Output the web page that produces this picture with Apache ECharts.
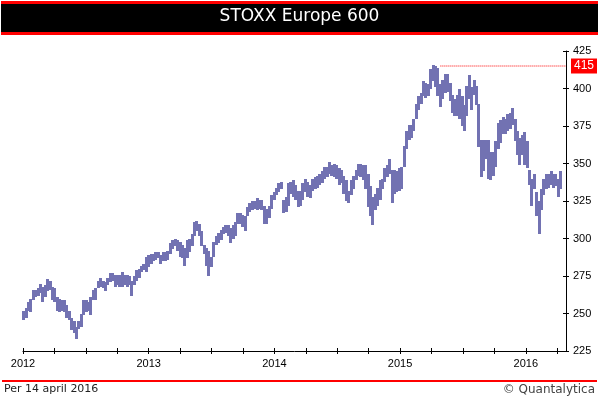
<!DOCTYPE html>
<html>
<head>
<meta charset="utf-8">
<script src="https://cdn.jsdelivr.net/npm/echarts@6/dist/echarts.min.js"></script>
<style>
  html, body { margin: 0; padding: 0; background: #fff; }
  #chart { width: 599px; height: 399px; }
</style>
</head>
<body>
<div id="chart"></div>
<script>
// weekly high/low ranges, first week starting 2012-01-03
const startDate = '2012-01-03';
const weekLows = [
  246, 247, 252, 251, 259, 261, 262, 264, 258, 261, 265, 266, 259, 258, 252, 251,
  252, 251, 247, 246, 239, 237, 233, 240, 241, 249, 251, 252, 249, 259, 259, 267,
  268, 267, 265, 269, 271, 272, 268, 269, 268, 268, 269, 268, 269, 262, 269, 272,
  274, 278, 279, 278, 281, 283, 285, 286, 287, 283, 285, 285, 286, 290, 293, 295,
  292, 288, 287, 282, 287, 291, 295, 302, 305, 302, 295, 290, 282, 275, 281, 288,
  296, 297, 299, 303, 304, 302, 297, 300, 302, 310, 310, 308, 305, 315, 318, 319,
  320, 319, 320, 319, 310, 310, 314, 320, 326, 329, 331, 333, 317, 318, 322, 330,
  328, 326, 321, 322, 326, 331, 328, 327, 332, 333, 334, 336, 337, 340, 341, 343,
  342, 341, 340, 336, 337, 330, 325, 324, 329, 333, 339, 342, 341, 339, 333, 321,
  315, 309, 319, 322, 326, 333, 338, 341, 343, 324, 330, 331, 332, 333, 348, 360,
  366, 367, 372, 380, 386, 390, 395, 394, 395, 400, 405, 401, 395, 388, 393, 397,
  398, 392, 384, 382, 382, 380, 375, 372, 382, 393, 386, 396, 389, 361, 341, 345,
  353, 340, 339, 342, 348, 360, 364, 370, 370, 372, 373, 376, 365, 356, 349, 356,
  349, 347, 336, 322, 333, 315, 303, 319, 329, 333, 334, 336, 334, 335, 328, 333
];
const weekHighs = [
  252, 254, 258, 260, 266, 266, 267, 270, 268, 269, 273, 272, 268, 267, 261, 260,
  259, 259, 256, 252, 247, 245, 241, 245, 250, 259, 259, 258, 261, 266, 267, 272,
  274, 272, 271, 274, 277, 277, 276, 276, 276, 278, 276, 276, 275, 272, 275, 279,
  280, 282, 283, 288, 289, 290, 290, 291, 291, 289, 291, 291, 292, 297, 299, 300,
  299, 298, 296, 294, 299, 300, 303, 311, 312, 310, 305, 296, 294, 292, 288, 298,
  302, 304, 306, 308, 309, 309, 307, 309, 311, 317, 317, 316, 315, 321, 324, 325,
  325, 327, 326, 326, 322, 320, 322, 329, 331, 334, 337, 338, 326, 328, 337, 338,
  339, 336, 332, 332, 337, 340, 338, 336, 340, 341, 342, 343, 345, 348, 348, 351,
  349, 350, 349, 347, 346, 342, 339, 332, 339, 342, 346, 350, 350, 349, 349, 343,
  335, 328, 330, 334, 339, 340, 347, 349, 353, 346, 346, 345, 347, 348, 362, 372,
  376, 376, 380, 390, 395, 397, 405, 404, 403, 413, 416, 415, 414, 403, 406, 410,
  410, 404, 396, 393, 396, 400, 395, 389, 402, 409, 401, 406, 402, 390, 366, 366,
  366, 366, 358, 358, 365, 377, 379, 381, 380, 383, 384, 387, 380, 372, 367, 369,
  371, 365, 346, 340, 343, 331, 325, 333, 340, 343, 343, 345, 343, 343, 340, 345
];
const yearTicks = [2012, 2013, 2014, 2015, 2016];
const peakValue = 415;
const peakLineFromWeek = 173;

const toYear = (d) => {
  const y = d.getUTCFullYear();
  const s = Date.UTC(y, 0, 1);
  const e = Date.UTC(y + 1, 0, 1);
  return y + (d.getTime() - s) / (e - s);
};

const t0 = new Date(startDate + 'T00:00:00Z').getTime();
const weekX = weekLows.map((_, i) => toYear(new Date(t0 + i * 7 * 86400000)));
const ranges = weekLows.map((lo, i) => [weekX[i], lo, weekHighs[i]]);

const xMin = yearTicks[0];
const xMax = 2016.32;
const barColor = '#7272b2';

const tickFont = { fontFamily: 'Liberation Sans', fontSize: 11, color: '#000' };

const myChart = echarts.init(document.getElementById('chart'), null, { renderer: 'canvas' });

const option = {
  animation: false,
  grid: { left: 23, right: 33, top: 51, bottom: 48, containLabel: false },
  xAxis: [
    {
      type: 'value',
      min: xMin,
      max: xMax,
      interval: 0.25,
      axisLine: { show: true, lineStyle: { color: '#000', width: 1 } },
      axisTick: { show: true, inside: false, length: 3, lineStyle: { color: '#000' } },
      axisLabel: {
        ...tickFont,
        margin: 7,
        showMaxLabel: false,
        formatter: (v) => (yearTicks.includes(Math.round(v * 100) / 100) ? String(Math.round(v)) : '')
      },
      splitLine: { show: false }
    },
    {
      type: 'value',
      position: 'bottom',
      min: xMin,
      max: xMax,
      interval: 0.25,
      axisLine: { show: false },
      axisTick: { show: true, inside: true, length: 3, lineStyle: { color: '#000' } },
      axisLabel: { show: false },
      splitLine: { show: false }
    }
  ],
  yAxis: [
    {
      type: 'value',
      position: 'right',
      min: 225,
      max: 425,
      interval: 25,
      axisLine: { show: true, lineStyle: { color: '#000', width: 1 } },
      axisTick: { show: true, inside: false, length: 3, lineStyle: { color: '#000' } },
      axisLabel: { ...tickFont, margin: 7 },
      splitLine: { show: false }
    },
    {
      type: 'value',
      position: 'right',
      min: 225,
      max: 425,
      interval: 25,
      axisLine: { show: false },
      axisTick: { show: true, inside: true, length: 3, lineStyle: { color: '#000' } },
      axisLabel: { show: false },
      splitLine: { show: false }
    }
  ],
  series: [
    {
      type: 'custom',
      xAxisIndex: 0,
      yAxisIndex: 0,
      data: ranges,
      encode: { x: 0, y: [1, 2] },
      itemStyle: { color: barColor },
      renderItem: (params, api) => {
        const x = api.value(0);
        const top = api.coord([x, api.value(2)]);
        const bot = api.coord([x, api.value(1)]);
        const y0 = Math.round(top[1]);
        return {
          type: 'rect',
          shape: {
            x: Math.round(top[0] - 1.5),
            y: y0,
            width: 3,
            height: Math.max(2, Math.round(bot[1]) - y0)
          },
          style: { fill: barColor, stroke: null }
        };
      },
      silent: true
    },
    {
      type: 'line',
      xAxisIndex: 0,
      yAxisIndex: 0,
      data: [[weekX[peakLineFromWeek], peakValue], [xMax, peakValue]],
      symbol: 'none',
      silent: true,
      lineStyle: { color: '#ff0000', width: 1, type: [1, 1] },
      endLabel: {
        show: true,
        formatter: String(peakValue),
        distance: 5,
        color: '#fff',
        backgroundColor: '#ff0000',
        padding: [2, 3, 1, 3],
        fontFamily: 'Liberation Sans',
        fontSize: 12
      }
    }
  ],
  graphic: [
    { type: 'rect', left: 1, top: 1, shape: { width: 597, height: 34 }, style: { fill: '#ff0000' } },
    { type: 'rect', left: 1, top: 4, shape: { width: 597, height: 28 }, style: { fill: '#000' } },
    {
      type: 'text', left: 'center', top: 8,
      style: { text: 'STOXX Europe 600', fill: '#fff', font: '17px "DejaVu Sans"' }
    },
    { type: 'rect', left: 2, top: 380, shape: { width: 595, height: 2 }, style: { fill: '#ff0000' } },
    {
      type: 'text', left: 4, top: 384,
      style: { text: 'Per 14 april 2016', fill: '#222', font: '11px "DejaVu Sans"' }
    },
    {
      type: 'text', right: 4, top: 384,
      style: { text: '© Quantalytica', fill: '#444', font: '12px "DejaVu Sans"' }
    }
  ]
};

myChart.setOption(option);
window.addEventListener('resize', () => myChart.resize());
</script>
</body>
</html>
